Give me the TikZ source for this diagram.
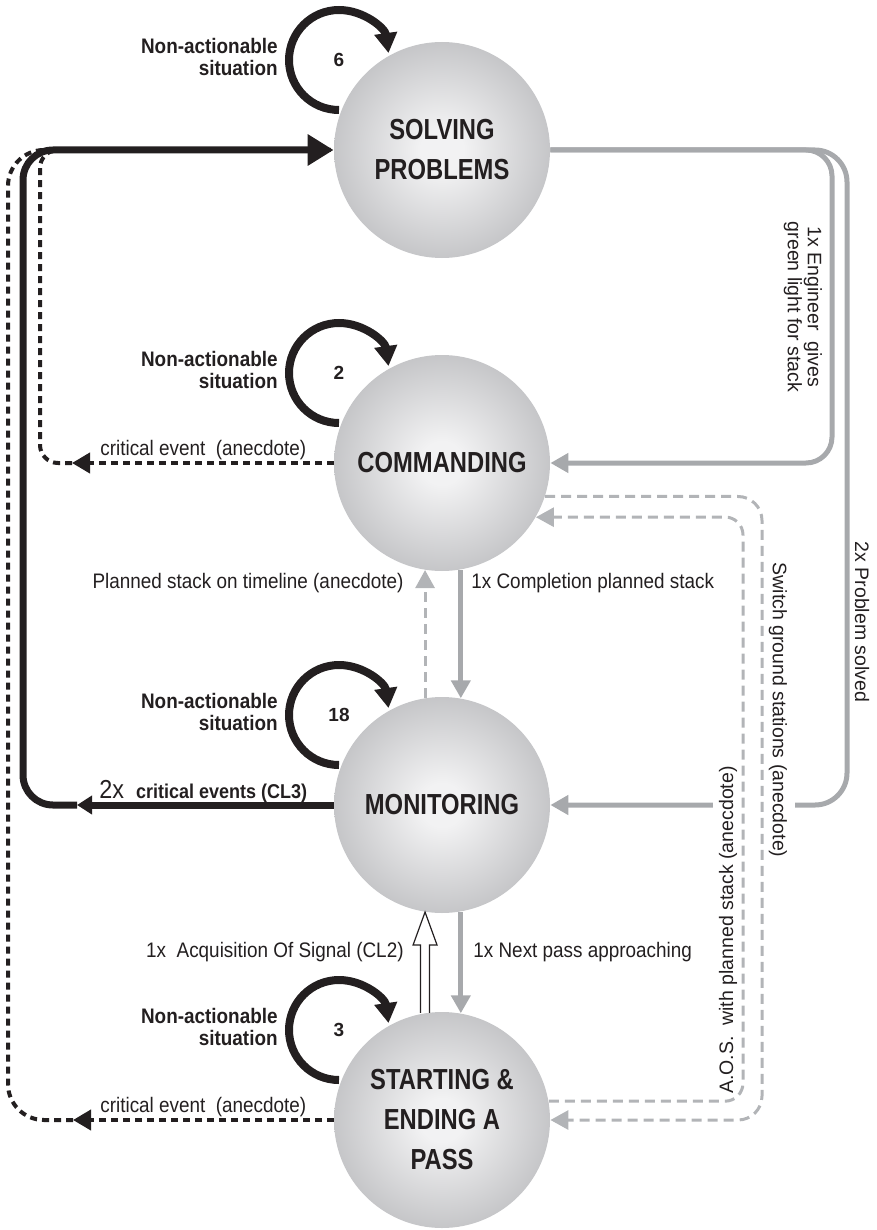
\documentclass[tikz,border=0pt]{standalone}
\usepackage{fontspec}
\setmainfont{Liberation Sans}
\newfontfamily\condfont[FakeStretch=0.9]{Liberation Sans}
\newfontfamily\headfont[FakeStretch=0.82]{Liberation Sans}
\usetikzlibrary{arrows.meta,calc}

\definecolor{ink}{RGB}{35,31,32}
\definecolor{linegray}{RGB}{167,169,172}
\definecolor{dashgray}{RGB}{178,180,183}
\definecolor{ballhi}{RGB}{242,242,243}
\definecolor{ballrim}{RGB}{142,143,147}
\pgfdeclareradialshading{stateshade}{\pgfpoint{0bp}{0bp}}{color(0bp)=(ballhi); color(5bp)=(ballhi); color(50bp)=(ballrim)}

\tikzset{
  state/.style={circle, minimum size=108pt, inner sep=0pt, shading=stateshade,
    font={\headfont\bfseries\fontsize{14.5pt}{20pt}\selectfont}, text=ink, align=center},
  lbl/.style={font={\condfont\fontsize{10.5pt}{12pt}\selectfont}, text=ink, inner sep=0pt},
  rlbl/.style={font={\fontsize{9.75pt}{10pt}\selectfont}, text=ink, inner sep=0pt, align=center},
  nalbl/.style={font={\condfont\bfseries\fontsize{10.5pt}{11pt}\selectfont}, text=ink,
    align=right, inner sep=0pt, anchor=east},
  numlbl/.style={font={\bfseries\fontsize{9.5pt}{10pt}\selectfont}, text=ink, inner sep=0pt},
  selfloop/.style={draw=ink, line width=4pt, -{Triangle[length=10pt,width=11pt]}},
  heavy/.style={draw=ink, line width=3.5pt},
  blkdash/.style={draw=ink, line width=2pt, dash pattern=on 3.5pt off 2.5pt},
  graysolid/.style={draw=linegray, line width=2.5pt},
  graydash/.style={draw=dashgray, line width=1.5pt, dash pattern=on 5pt off 3pt},
  gtip/.style={-{Triangle[length=9pt,width=9.5pt]}},
  btip/.style={-{Triangle[length=9pt,width=10pt]}}
}

\begin{document}
\begin{tikzpicture}[x=0.5pt,y=-0.5pt]
\useasboundingbox (0,0) rectangle (877,1230);

% states
\node[state] (S) at (442,150) {SOLVING\\PROBLEMS};
\node[state] (C) at (442,463) {COMMANDING};
\node[state] (M) at (442,805) {MONITORING};
\node[state] (P) at (442,1120) {STARTING \&\\ENDING A\\PASS};

% self loops with their counts
\foreach \n/\k in {S/6, C/2, M/18, P/3}{
  \draw[selfloop] ([shift={(-103,-40)}]\n.center) arc[start angle=90, end angle=352, radius=50];
  \node[numlbl] (num\n) at ([shift={(-103,-90)}]\n.center) {\k};
  \node[nalbl] (na\n) at ([shift={(-164,-93)}]\n.center) {Non-actionable\\situation};
}

% escalation from monitoring to problem solving
\coordinate (mArr) at (77,805);
\draw[heavy, -{Triangle[length=7.5pt,width=9pt]}] (M.west) -- (mArr);
\draw[heavy, rounded corners=15pt, -{Triangle[length=13pt,width=15pt]}] (mArr) -- (23,805) -- (23,150) -- (S.west);

% critical events (anecdotes)
\coordinate (cArr) at (72,463);
\draw[blkdash, btip] (C.west) -- (cArr);
\draw[blkdash, rounded corners=9pt] (cArr) -- (40,463) -- (40,150) -- (S.west);
\coordinate (pArr) at (73,1120);
\draw[blkdash, btip] (P.west) -- (pArr);
\draw[blkdash, rounded corners=18pt] (pArr) -- (8,1120) -- (8,150) -- (S.west);

% solved problems back to commanding / monitoring
\draw[graysolid, rounded corners=16pt, gtip] (S.east) -- (847,150) -- (847,805) -- (M.east);
\draw[graysolid, rounded corners=13pt, gtip] (S.east) -- (832,150) -- (832,463) -- (C.east);
\fill[white] (713,799) rectangle (795,811);

% ground station switches and A.O.S.
\draw[graydash, rounded corners=12pt, gtip] (C.-18.35) -| (762,1120) -- (P.east);
\draw[graydash, rounded corners=9pt, gtip] (P.10.67) -| (743,517) -- (C.-30);

% vertical transitions
\draw[graydash, gtip] (M.99) -- (C.-99);
\draw[graysolid, gtip] (C.-80) -- (M.80);
\draw[graysolid, gtip] (M.-80) -- (P.80);
\draw[ink, line width=0.6pt, fill=white, line join=miter]
  ($(P.99)+(-4.5,0)$) -- ($(M.-99)+(-4.5,33)$) -- ++(-7.5,0) -- (M.-99)
  -- ($(M.-99)+(12,33)$) -- ++(-7.5,0) -- ($(P.99)+(4.5,0)$);

% labels
\node[lbl, anchor=base west] (lCritC) at (100,455) {critical event\ \ (anecdote)};
\node[lbl, anchor=base west] (lCritP) at (100,1112) {critical event\ \ (anecdote)};
\node[lbl, anchor=base west] (lCL3) at (99,798)
  {{\fontsize{13pt}{13pt}\selectfont 2x}\hspace{6pt}{\bfseries\fontsize{10pt}{12pt}\selectfont critical events (CL3)}};
\node[lbl, anchor=east] (lPlan) at (404,583) {Planned stack on timeline (anecdote)};
\node[lbl, anchor=west] (lComp) at (471,583) {1x Completion planned stack};
\node[lbl, anchor=east] (lAOSig) at (404,952) {1x\ \ Acquisition Of Signal (CL2)};
\node[lbl, anchor=west] (lNext) at (473,952) {1x Next pass approaching};

\node[rlbl, rotate=-90] (lEng) at (803,307) {1x Engineer\ \ gives\\green light for stack};
\node[rlbl, rotate=-90] (lSolved) at (862,622) {2x Problem solved};
\node[rlbl, rotate=-90] (lSwitch) at (778,710) {Switch ground stations (anecdote)};
\node[rlbl, rotate=90] (lAOS) at (728,930) {A.O.S.\ \ with planned stack (anecdote)};
\end{tikzpicture}
\end{document}
